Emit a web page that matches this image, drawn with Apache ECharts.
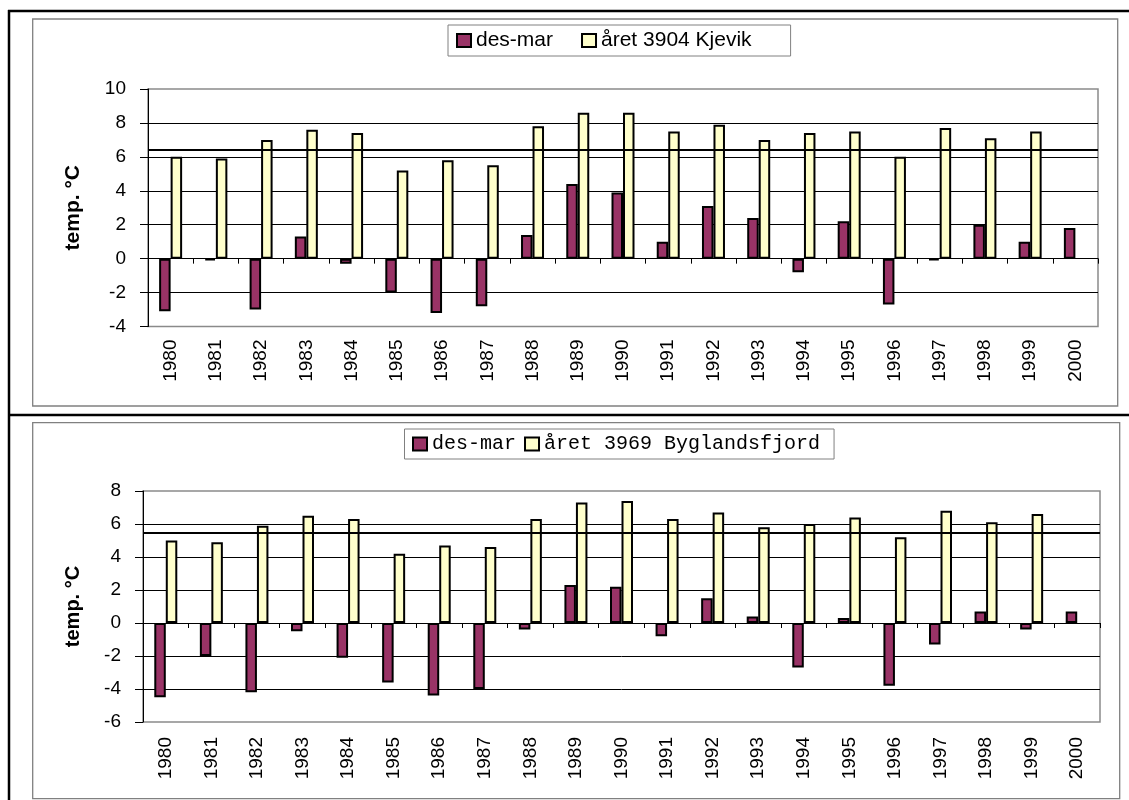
<!DOCTYPE html>
<html>
<head>
<meta charset="utf-8">
<script src="https://cdn.jsdelivr.net/npm/echarts@6/dist/echarts.min.js"></script>
<style>
html,body{margin:0;padding:0;background:#fff;}
#c{width:1129px;height:800px;}
</style>
</head>
<body>
<div id="c"></div>
<script>
// ---- data ----
const years = ['1980','1981','1982','1983','1984','1985','1986','1987','1988','1989','1990','1991','1992','1993','1994','1995','1996','1997','1998','1999','2000'];
const kjevikDesMar = [-3.1,-0.1,-3.0,1.3,-0.3,-2.0,-3.2,-2.8,1.4,4.4,3.9,1.0,3.1,2.4,-0.8,2.2,-2.7,-0.1,2.0,1.0,1.8];
const kjevikAaret  = [6.0,5.9,7.0,7.6,7.4,5.2,5.8,5.5,7.8,8.6,8.6,7.5,7.9,7.0,7.4,7.5,6.0,7.7,7.1,7.5,null];
const byglDesMar   = [-4.5,-2.0,-4.2,-0.5,-2.1,-3.6,-4.4,-4.0,-0.4,2.3,2.2,-0.8,1.5,0.4,-2.7,0.3,-3.8,-1.3,0.7,-0.4,0.7];
const byglAaret    = [5.0,4.9,5.9,6.5,6.3,4.2,4.7,4.6,6.3,7.3,7.4,6.3,6.7,5.8,6.0,6.4,5.2,6.8,6.1,6.6,null];
const kjevikNormal = 6.4;
const byglNormal = 5.5;
const kjevikYAxis = [-4, 10, 2]; // min, max, interval
const byglYAxis = [-6, 8, 2];
const seriesNames = ['des-mar', 'året 3904 Kjevik', 'året 3969 Byglandsfjord'];
const yName = 'temp. °C';

// ---- chart ----
const FONT = 'Liberation Sans';
const chart = echarts.init(document.getElementById('c'), null, {renderer: 'canvas'});

function gridDef(left, top, width, height) {
  return {left, top, width, height, show: true, borderColor: '#8a8a8a', borderWidth: 1.5, backgroundColor: 'transparent', containLabel: false};
}
function labelAxis(gi, margin) {
  return {
    type: 'category', gridIndex: gi, data: years, position: 'bottom',
    axisLine: {show: false, onZero: false}, axisTick: {show: false},
    axisLabel: {rotate: 90, fontSize: 19, fontFamily: FONT, color: '#000', margin: margin},
    splitLine: {show: false}
  };
}
function zeroAxis(gi) {
  return {
    type: 'category', gridIndex: gi, data: years, position: 'top',
    axisLine: {show: true, onZero: true, lineStyle: {color: '#000', width: 1}},
    axisTick: {show: true, inside: true, length: 5, lineStyle: {color: '#000', width: 1}},
    axisLabel: {show: false}, splitLine: {show: false}
  };
}
function valAxis(gi, range, nameGap, nameSize) {
  return {
    type: 'value', gridIndex: gi, min: range[0], max: range[1], interval: range[2],
    name: yName, nameLocation: 'middle', nameGap: nameGap,
    nameTextStyle: {fontFamily: FONT, fontSize: nameSize, fontWeight: 'bold', color: '#000'},
    axisLine: {show: true, lineStyle: {color: '#000', width: 1}},
    axisTick: {show: true, length: 8, lineStyle: {color: '#000', width: 1}},
    axisLabel: {fontSize: 19, fontFamily: FONT, color: '#000', margin: 22},
    splitLine: {show: true, showMinLine: false, showMaxLine: false, lineStyle: {color: '#000', width: 1}}
  };
}
function barSeries(name, data, xi, yi, color, normal) {
  const s = {
    type: 'bar', name, data, xAxisIndex: xi, yAxisIndex: yi,
    barWidth: 11.5, barGap: '0%',
    itemStyle: {color, borderColor: '#000', borderWidth: 2},
    emphasis: {disabled: true}, animation: false
  };
  if (normal !== undefined) {
    s.markLine = {
      silent: true, symbol: 'none', label: {show: false},
      lineStyle: {color: '#000', width: 1.8, type: 'solid'},
      data: [{yAxis: normal}]
    };
  }
  return s;
}
const legendBase = {
  orient: 'horizontal', icon: 'rect', itemWidth: 14, itemHeight: 13,
  backgroundColor: '#fff', borderColor: '#808080', borderWidth: 1, borderRadius: 0,
  itemStyle: {borderColor: '#000', borderWidth: 2},
  selectedMode: false
};

const option = {
  backgroundColor: '#fff',
  animation: false,
  graphic: [
    {type: 'rect', silent: true, z: -10, shape: {x: 32.7, y: 19, width: 1085, height: 387}, style: {fill: null, stroke: '#808080', lineWidth: 1.3}},
    {type: 'rect', silent: true, z: -10, shape: {x: 32.7, y: 422.7, width: 1087, height: 376}, style: {fill: null, stroke: '#808080', lineWidth: 1.3}},
    {type: 'line', silent: true, shape: {x1: 8, y1: 11, x2: 1129, y2: 11}, style: {stroke: '#000', lineWidth: 2.5}},
    {type: 'line', silent: true, shape: {x1: 9, y1: 10, x2: 9, y2: 800}, style: {stroke: '#000', lineWidth: 2.5}},
    {type: 'line', silent: true, shape: {x1: 8, y1: 415, x2: 1129, y2: 415}, style: {stroke: '#000', lineWidth: 2.5}}
  ],
  legend: [
    Object.assign({}, legendBase, {
      data: [seriesNames[0], seriesNames[1]], left: 448, top: 25, itemGap: 28,
      padding: [5, 39, 5, 8],
      textStyle: {fontFamily: FONT, fontSize: 21, color: '#000'}
    }),
    Object.assign({}, legendBase, {
      data: [seriesNames[0], seriesNames[2]], left: 404.5, top: 429, itemGap: 8,
      padding: [5, 14, 5, 7.5],
      textStyle: {fontFamily: 'Liberation Mono', fontSize: 20, color: '#000'}
    })
  ],
  grid: [gridDef(148, 89, 950, 237.5), gridDef(143, 491, 957, 231)],
  xAxis: [labelAxis(0, 13), zeroAxis(0), labelAxis(1, 15), zeroAxis(1)],
  yAxis: [valAxis(0, kjevikYAxis, 64, 21), valAxis(1, byglYAxis, 60, 20)],
  series: [
    barSeries(seriesNames[0], kjevikDesMar, 0, 0, '#993366'),
    barSeries(seriesNames[1], kjevikAaret, 0, 0, '#FFFFCC', kjevikNormal),
    barSeries(seriesNames[0], byglDesMar, 2, 1, '#993366'),
    barSeries(seriesNames[2], byglAaret, 2, 1, '#FFFFCC', byglNormal)
  ]
};
chart.setOption(option);
</script>
</body>
</html>
